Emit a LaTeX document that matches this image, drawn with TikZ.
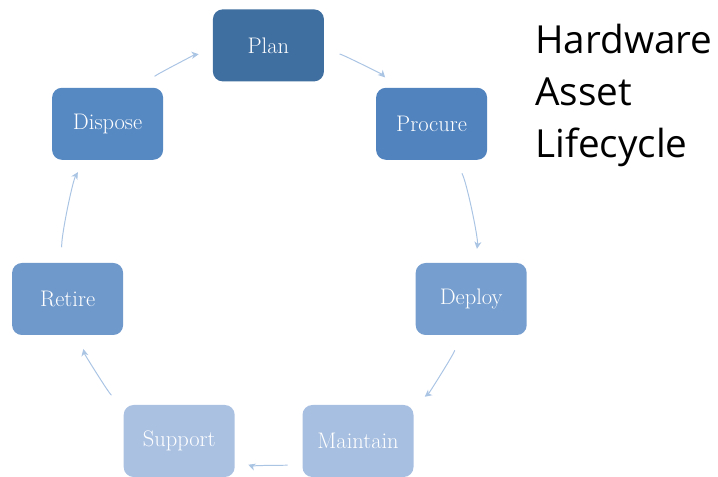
\documentclass[tikz,border=0pt]{standalone}
\usepackage{fontspec}
\usepackage{tikz}
\usetikzlibrary{arrows.meta, positioning}
\newfontfamily\titlefont{Open Sans}
\definecolor{planblue}{RGB}{63, 110, 160}
\definecolor{procureblue}{RGB}{81, 131, 191}
\definecolor{deployblue}{RGB}{118, 158, 206}
\definecolor{maintainblue}{RGB}{167, 191, 224}
\definecolor{supportblue}{RGB}{170, 193, 226}
\definecolor{retireblue}{RGB}{111, 152, 203}
\definecolor{disposeblue}{RGB}{86, 136, 194}
\definecolor{cyclearrow}{RGB}{170, 196, 228}

\begin{document}
\begin{tikzpicture}[
        stage/.style={rounded corners=7pt, minimum width=2.775cm, minimum height=1.8cm, align=center, text=white, font=\fontsize{16}{19}\selectfont},
        arrow/.style={-{Stealth[length=5pt, width=5pt, inset=1.5pt]}, draw=cyclearrow, line width=0.7pt, bend left=19, looseness=0.6, shorten <=11pt, shorten >=10pt}
    ]
        \useasboundingbox (0, 0) rectangle (17.95, 11.925);

        % Lifecycle stages
        \node[stage, fill=planblue] (plan) at (6.71, 10.79) {Plan};

        \node[stage, fill=procureblue] (procure) at (10.79, 8.83) {Procure};

        \node[stage, fill=deployblue] (deploy) at (11.78, 4.45) {Deploy};

        \node[stage, fill=maintainblue] (maintain) at (8.95, 0.9) {Maintain};

        \node[stage, fill=supportblue] (support) at (4.48, 0.9) {Support};

        \node[stage, fill=retireblue] (retire) at (1.69, 4.45) {Retire};

        \node[stage, fill=disposeblue] (dispose) at (2.69, 8.83) {Dispose};

        % Arrows
        \draw[arrow] (plan) to (procure);
        \draw[arrow] (procure) to (deploy);
        \draw[arrow] (deploy) to (maintain);
        \draw[arrow] (maintain) to (support);
        \draw[arrow] (support) to (retire);
        \draw[arrow] (retire) to (dispose);
        \draw[arrow] (dispose) to (plan);

        % Title
        \node[anchor=base west, inner sep=0pt, align=left, font=\titlefont\fontsize{27.5}{37}\selectfont] (title) at (13.375, 7.975) {Hardware\\Asset\\Lifecycle};
    \end{tikzpicture}
\end{document}
